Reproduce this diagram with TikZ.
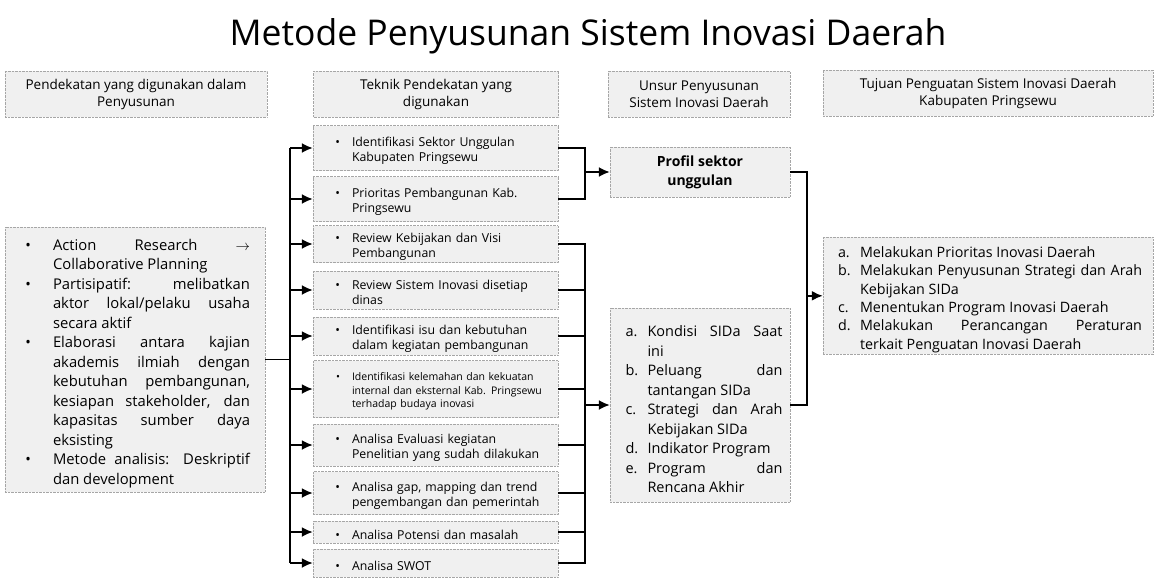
\documentclass[tikz,border=0pt]{standalone}
\usepackage{fontspec}
\setmainfont{Open Sans}
\usepackage{enumitem}
\usetikzlibrary{arrows.meta,positioning}
\hyphenpenalty=10000
\exhyphenpenalty=10000

\newcommand{\teknik}[1]{%
  \begin{itemize}[nosep,leftmargin=29pt,labelsep=12pt]\item #1\end{itemize}}

\begin{document}
\begin{tikzpicture}[
        x=1pt,
        y=-1pt,
        >=Latex,
        head/.style={
            draw=gray!70, densely dotted, fill=gray!12,
            align=center, inner sep=2pt,
            minimum height=46pt,
            font=\fontsize{13.5}{17}\selectfont
        },
        panel/.style={
            draw=gray!70, densely dotted, fill=gray!12,
            inner ysep=2pt
        },
        tbox/.style={
            panel, text width=225pt, inner xsep=10pt, align=left,
            font=\fontsize{12.3}{14.5}\selectfont
        },
        wire/.style={line width=1.8pt},
        flow/.style={-{Latex[length=11pt,width=10pt]}, line width=1.8pt}
    ]
        \useasboundingbox (0,0) rectangle (1155,583);

        % Title and the four column headers.
        \node[font=\fontsize{35.5}{40}\selectfont, anchor=base] (title) at (588,46) {Metode Penyusunan Sistem Inovasi Daerah};
        \node[head, minimum width=262pt] (h1) at (136,94) {Pendekatan yang digunakan dalam\\Penyusunan};
        \node[head, minimum width=245pt] (h2) at (436,94) {Teknik Pendekatan yang\\digunakan};
        \node[head, minimum width=182pt] (h3) at (699,94) {Unsur Penyusunan\\Sistem Inovasi Daerah};
        \node[head, minimum width=330pt] (h4) at (988,93) {Tujuan Penguatan Sistem Inovasi Daerah\\Kabupaten Pringsewu};

        % Approach box on the left.
        \node[panel, text width=230pt, inner xsep=15pt, minimum height=265pt, align=justify,
              font=\fontsize{14.8}{19.5}\selectfont] (pend) at (135,359.5) {%
            \begin{itemize}[nosep,leftmargin=33pt,labelsep=22pt]
                \item Action Research \ensuremath{\rightarrow}\linebreak Collaborative Planning
                \item Partisipatif: melibatkan\linebreak aktor lokal/pelaku usaha\linebreak secara aktif
                \item Elaborasi antara kajian\linebreak akademis ilmiah dengan\linebreak kebutuhan pembangunan,\linebreak kesiapan stakeholder, dan\linebreak kapasitas sumber daya\linebreak eksisting
                \item Metode analisis: Deskriptif\linebreak dan development
            \end{itemize}};

        % Techniques column.
        \node[tbox, minimum height=45pt] (t1) at (435.5,148) {\teknik{Identifikasi Sektor Unggulan\\Kabupaten Pringsewu}};
        \node[tbox, minimum height=45pt] (t2) at (435.5,199) {\teknik{Prioritas Pembangunan Kab.\\Pringsewu}};
        \node[tbox, minimum height=37pt] (t3) at (435.5,244) {\teknik{Review Kebijakan dan Visi\\Pembangunan}};
        \node[tbox, minimum height=38pt] (t4) at (435.5,290) {\teknik{Review Sistem Inovasi disetiap\\dinas}};
        \node[tbox, minimum height=38pt] (t5) at (435.5,336) {\teknik{Identifikasi isu dan kebutuhan\\dalam kegiatan pembangunan}};
        \node[tbox, minimum height=57pt, font=\fontsize{10.5}{13.5}\selectfont] (t6) at (435.5,389) {\teknik{Identifikasi kelemahan dan kekuatan\\internal dan eksternal Kab. Pringsewu\\terhadap budaya inovasi}};
        \node[tbox, minimum height=42pt] (t7) at (435.5,445) {\teknik{Analisa Evaluasi kegiatan\\Penelitian yang sudah dilakukan}};
        \node[tbox, minimum height=43pt] (t8) at (435.5,493) {\teknik{Analisa gap, mapping dan trend\\pengembangan dan pemerintah}};
        \node[tbox, minimum height=22pt] (t9) at (435.5,532) {\teknik{Analisa Potensi dan masalah}};
        \node[tbox, minimum height=28pt] (t10) at (435.5,563) {\teknik{Analisa SWOT}};

        % Elements column.
        \node[panel, minimum width=180pt, minimum height=50pt, align=center,
              font=\bfseries\fontsize{14}{19}\selectfont] (profil) at (700,172) {Profil sektor\\unggulan};
        \node[panel, text width=165pt, inner xsep=7.5pt, minimum height=194pt, align=justify,
              font=\fontsize{14.5}{19.5}\selectfont] (unsur) at (700,405) {%
            \begin{enumerate}[nosep,label=\alph*.,leftmargin=30pt,labelwidth=22pt,labelsep=0pt,align=left]
                \item Kondisi SIDa Saat\linebreak ini
                \item Peluang dan\linebreak tantangan SIDa
                \item Strategi dan Arah\linebreak Kebijakan SIDa
                \item Indikator Program
                \item Program dan\linebreak Rencana Akhir
            \end{enumerate}};

        % Goals column.
        \node[panel, text width=308pt, inner xsep=11pt, align=justify, anchor=north,
              font=\fontsize{14.3}{18.3}\selectfont] (tujuan) at (988,237) {%
            \begin{enumerate}[nosep,label=\alph*.,leftmargin=26pt,labelwidth=22pt,labelsep=0pt,align=left]
                \item Melakukan Prioritas Inovasi Daerah
                \item Melakukan Penyusunan Strategi dan Arah\linebreak Kebijakan SIDa
                \item Menentukan Program Inovasi Daerah
                \item Melakukan Perancangan Peraturan\linebreak terkait Penguatan Inovasi Daerah
            \end{enumerate}\par\vspace{28pt}};

        % Connectors.
        \coordinate (bus) at (290,0);
        \coordinate (rb) at (585,0);
        \coordinate (rc) at (807,0);

        \draw[wire] (pend.east) -- (pend.east -| bus);
        \draw[wire] (bus |- t1.west) -- (bus |- t10.west);
        \draw[flow] (bus |- t1.west) -- (t1.west);
        \draw[flow] (bus |- t2.west) -- (t2.west);
        \draw[flow] (bus |- t3.west) -- (t3.west);
        \draw[flow] (bus |- t4.west) -- (t4.west);
        \draw[flow] (bus |- t5.west) -- (t5.west);
        \draw[flow] (bus |- t6.west) -- (t6.west);
        \draw[flow] (bus |- t7.west) -- (t7.west);
        \draw[flow] (bus |- t8.west) -- (t8.west);
        \draw[flow] (bus |- t9.west) -- (t9.west);
        \draw[flow] (bus |- t10.west) -- (t10.west);

        \draw[wire] (t1.east) -| (rb |- t2.east) -- (t2.east);
        \draw[flow] (rb |- profil.west) -- (profil.west);
        \draw[wire] (t3.east) -| (rb |- t10.east) -- (t10.east);
        \draw[wire] (t4.east) -- (t4.east -| rb);
        \draw[wire] (t5.east) -- (t5.east -| rb);
        \draw[wire] (t6.east) -- (t6.east -| rb);
        \draw[wire] (t7.east) -- (t7.east -| rb);
        \draw[wire] (t8.east) -- (t8.east -| rb);
        \draw[wire] (t9.east) -- (t9.east -| rb);
        \draw[flow] (rb |- unsur.west) -- (unsur.west);

        \draw[wire] (profil.east) -| (rc |- unsur.east) -- (unsur.east);
        \draw[flow] (rc |- tujuan.west) -- (tujuan.west);

    \end{tikzpicture}
\end{document}
